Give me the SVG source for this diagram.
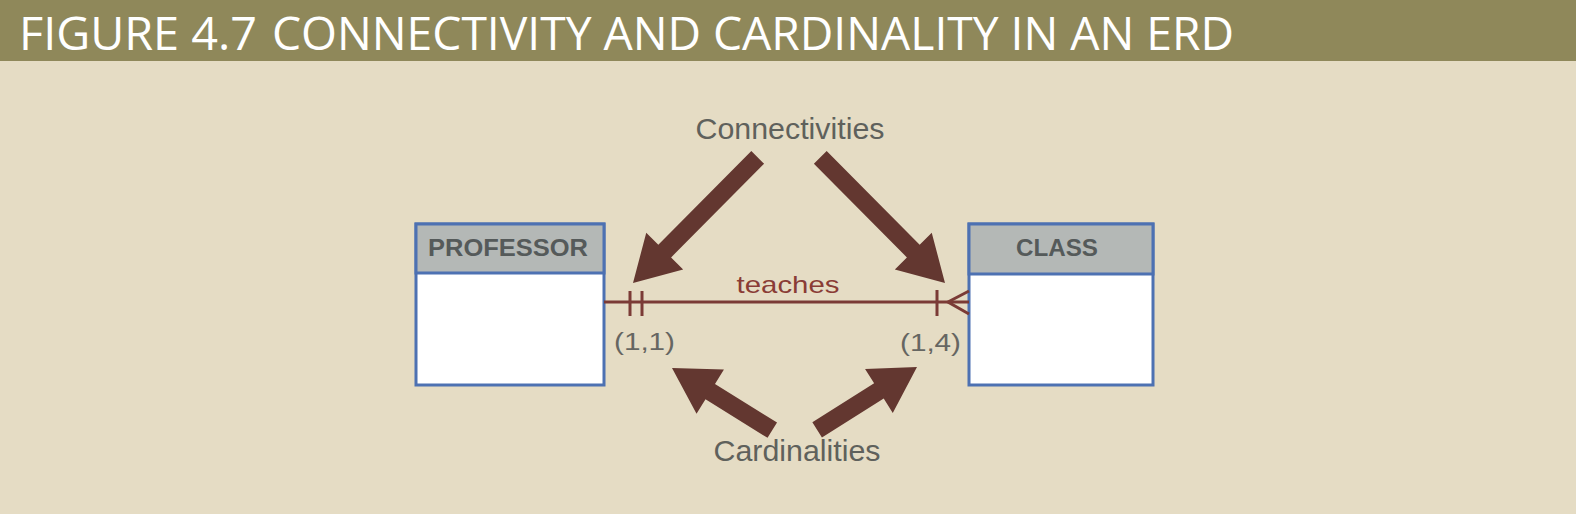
<svg xmlns="http://www.w3.org/2000/svg" width="1576" height="514" viewBox="0 0 1576 514">
<style>
.title{font-family:"Open Sans","Liberation Sans",sans-serif;font-size:46px;fill:#ffffff}
.ent{fill:#ffffff;stroke:#4d71b2;stroke-width:3}
.hdr{fill:#b4b8b6;stroke:#4d71b2;stroke-width:3}
.ename{font-family:"Liberation Sans",Arial,sans-serif;font-weight:bold;font-size:24px;fill:#555a5a;text-anchor:middle}
.lbl{font-family:"Liberation Sans",Arial,sans-serif;font-size:30px;fill:#5f615c;text-anchor:middle}
.card{font-family:"Liberation Sans",Arial,sans-serif;font-size:23px;fill:#666662}
.rel{stroke:#7b3b36;stroke-width:3;fill:none}
.arw{fill:#633730}
</style>
<defs>
<path id="longArrow" d="M0,0 L-45,-26 L-45,-9 L-177,-9 L-177,9 L-45,9 L-45,26 Z"/>
<path id="shortArrow" d="M0,0 L-45,-26 L-45,-9 L-118,-9 L-118,9 L-45,9 L-45,26 Z"/>
</defs>
<rect x="0" y="0" width="1576" height="514" fill="#e5dcc4"/>
<rect x="0" y="0" width="1576" height="61" fill="#8f885a"/>
<g id="title">
<text class="title" x="19" y="50" textLength="238" lengthAdjust="spacingAndGlyphs">FIGURE 4.7</text>
<text class="title" x="272" y="50" textLength="962" lengthAdjust="spacingAndGlyphs">CONNECTIVITY AND CARDINALITY IN AN ERD</text>
</g>
<g id="professor">
<rect class="ent" x="416" y="224" width="188" height="161"/>
<rect class="hdr" x="416" y="224" width="188" height="49"/>
<text class="ename" x="508" y="256" textLength="160" lengthAdjust="spacingAndGlyphs">PROFESSOR</text>
</g>
<g id="class">
<rect class="ent" x="969" y="224" width="184" height="161"/>
<rect class="hdr" x="969" y="224" width="184" height="50"/>
<text class="ename" x="1057" y="256" textLength="82" lengthAdjust="spacingAndGlyphs">CLASS</text>
</g>
<g id="connectors">
<path class="rel" d="M604,302 L969,302"/>
<path class="rel" d="M630,291 L630,316 M642,291 L642,316"/>
<path class="rel" d="M937,290 L937,316 M969,291 L948,302 L969,314"/>
<text x="788" y="293" font-family="Liberation Sans, Arial, sans-serif" font-size="24" fill="#8a3c36" text-anchor="middle" textLength="103" lengthAdjust="spacingAndGlyphs">teaches</text>
</g>
<g id="cardinality-labels">
<text class="card" x="614" y="350" textLength="61" lengthAdjust="spacingAndGlyphs">(1,1)</text>
<text class="card" x="900" y="351" textLength="61" lengthAdjust="spacingAndGlyphs">(1,4)</text>
</g>
<g id="annotations">
<text class="lbl" x="790" y="139" textLength="189" lengthAdjust="spacingAndGlyphs">Connectivities</text>
<text class="lbl" x="797" y="461" textLength="167" lengthAdjust="spacingAndGlyphs">Cardinalities</text>
<use href="#longArrow" class="arw" transform="translate(633,283) rotate(134.8)"/>
<use href="#longArrow" class="arw" transform="translate(945,283) rotate(45.2)"/>
<use href="#shortArrow" class="arw" transform="translate(672,368) rotate(211.8)"/>
<use href="#shortArrow" class="arw" transform="translate(917,367) rotate(-32.2)"/>
</g>
</svg>
